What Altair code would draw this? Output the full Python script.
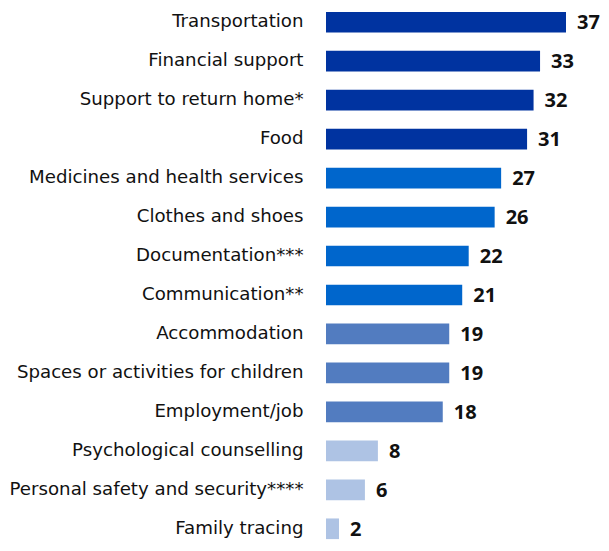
import altair as alt
import pandas as pd

categories = [
    "Transportation", "Financial support", "Support to return home*", "Food",
    "Medicines and health services", "Clothes and shoes", "Documentation***",
    "Communication**", "Accommodation", "Spaces or activities for children",
    "Employment/job", "Psychological counselling", "Personal safety and security****",
    "Family tracing",
]
values = [37, 33, 32, 31, 27, 26, 22, 21, 19, 19, 18, 8, 6, 2]
tiers = ["t1"] * 4 + ["t2"] * 4 + ["t3"] * 3 + ["t4"] * 3
tier_colors = ["#0033A0", "#0066CC", "#527CC0", "#AEC3E4"]

df = pd.DataFrame({"cat": categories, "val": values, "tier": tiers})

y = alt.Y("cat:N", sort=categories, title=None,
          scale=alt.Scale(paddingInner=0.47, paddingOuter=0.1, range=[0, 535]),
          axis=alt.Axis(domain=False, ticks=False, grid=False, labelPadding=23,
                        labelFont="DejaVu Sans", labelFontSize=18.2, labelFontWeight="normal",
                        labelColor="#111111", labelLimit=400))
x = alt.X("val:Q", title=None, scale=alt.Scale(domain=[0, 37], nice=False, zero=True),
          axis=None)

bars = alt.Chart(df).mark_bar().encode(
    x=x, y=y,
    color=alt.Color("tier:N", scale=alt.Scale(domain=["t1", "t2", "t3", "t4"], range=tier_colors),
                    legend=None),
)
text = alt.Chart(df).mark_text(align="left", baseline="middle", dx=11, dy=1,
                               font="Open Sans", fontSize=20, fontWeight="bold",
                               color="#111111").encode(x=x, y=y, text="val:Q")

chart = (bars + text).properties(
    width=240, height=535,
    autosize=alt.AutoSizeParams(type="none"),
    padding={"left": 318, "top": 0, "right": 34, "bottom": 0},
).configure_view(stroke=None)

chart.save("out.html", embed_options={"renderer": "svg", "actions": False})
